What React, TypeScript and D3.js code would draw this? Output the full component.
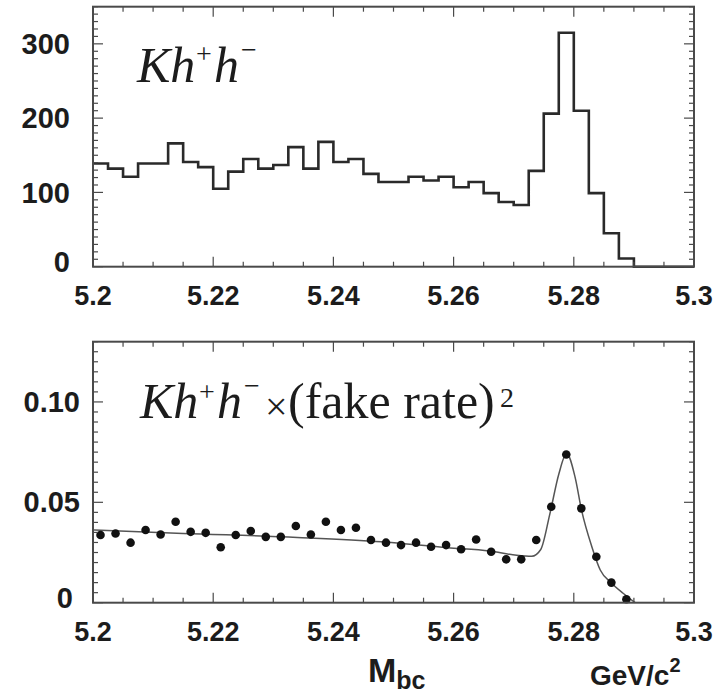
import * as d3 from "d3";

// Kh+h- candidates, Mbc histogram (40 bins, 5.2 – 5.3 GeV/c^2)
const massRange: [number, number] = [5.2, 5.3];
const binWidth = 0.0025;
const candidateCounts = [
  139, 132, 121, 139, 139, 166, 141, 134, 105, 128,
  145, 132, 137, 161, 132, 168, 141, 145, 125, 114,
  114, 121, 116, 121, 107, 114, 99, 87, 83, 129,
  206, 315, 210, 99, 45, 11, 0, 0, 0, 0,
];

// same sample weighted by (fake rate)^2, first 36 bins
const weightedRates = [
  0.0337, 0.0345, 0.0299, 0.0362, 0.034, 0.0403, 0.0353, 0.0348, 0.0276, 0.0337,
  0.0357, 0.0328, 0.0328, 0.0382, 0.034, 0.0403, 0.0362, 0.0373, 0.0312, 0.0299,
  0.0287, 0.0299, 0.0279, 0.0287, 0.0266, 0.0315, 0.0254, 0.0216, 0.0216, 0.0312,
  0.0478, 0.0738, 0.047, 0.0229, 0.01, 0.0017,
];

// fitted curve
const fitMass = [
  5.2, 5.215, 5.234, 5.248, 5.259, 5.266, 5.2705, 5.273, 5.2745, 5.276,
  5.2775, 5.2788, 5.2802, 5.2813, 5.283, 5.2844, 5.2863, 5.2882, 5.2902,
];
const fitRate = [
  0.0362, 0.0345, 0.0325, 0.0303, 0.0274, 0.0258, 0.0236, 0.0231, 0.0265, 0.044,
  0.064, 0.0743, 0.0627, 0.046, 0.0279, 0.0163, 0.0097, 0.0047, 0,
];

const xTicks = [5.2, 5.22, 5.24, 5.26, 5.28, 5.3];
const xTickLabels = ["5.2", "5.22", "5.24", "5.26", "5.28", "5.3"];
const topYTicks = [0, 100, 200, 300];
const topYLabels = ["0", "100", "200", "300"];
const bottomYTicks = [0, 0.05, 0.1];
const bottomYLabels = ["0", "0.05", "0.10"];

const frameColor = "#4a4a4a";
const inkColor = "#1c1c1c";
const sans = "'Liberation Sans', Arial, Helvetica, sans-serif";
const serif = "'Liberation Serif', 'Times New Roman', serif";

const x = d3.scaleLinear().domain(massRange).range([93, 694]);

interface FrameProps {
  y: d3.ScaleLinear<number, number>;
  yMinorStep: number;
  yTicks: number[];
  yLabels: string[];
  labelX: number;
  zeroLabelX: number;
}

function Frame({ y, yMinorStep, yTicks, yLabels, labelX, zeroLabelX }: FrameProps) {
  const [x0, x1] = x.range();
  const [yb, yt] = y.range();
  const yMax = y.domain()[1];
  const xMinor = d3.range(0, 21).map((i) => massRange[0] + i * 0.005);
  const yMinor = d3.range(0, Math.floor(yMax / yMinorStep + 1e-6) + 1).map((i) => i * yMinorStep);
  const isMajorX = (v: number) => xTicks.some((t) => Math.abs(t - v) < 1e-6);
  const isMajorY = (v: number) => yTicks.some((t) => Math.abs(t - v) < 1e-9);
  return (
    <g>
      {xMinor.map((v) => {
        const len = isMajorX(v) ? 10 : 5;
        return (
          <g key={`x${v}`} stroke={frameColor} strokeWidth={1.2}>
            <line x1={x(v)} x2={x(v)} y1={yb} y2={yb - len} />
            <line x1={x(v)} x2={x(v)} y1={yt} y2={yt + len} />
          </g>
        );
      })}
      {yMinor.map((v) => {
        const len = isMajorY(v) ? 10 : 5;
        return (
          <g key={`y${v}`} stroke={frameColor} strokeWidth={1.2}>
            <line x1={x0} x2={x0 + len} y1={y(v)} y2={y(v)} />
            <line x1={x1} x2={x1 - len} y1={y(v)} y2={y(v)} />
          </g>
        );
      })}
      <rect x={x0} y={yt} width={x1 - x0} height={yb - yt} fill="none" stroke={frameColor} strokeWidth={2} />
      {xTicks.map((t, i) => (
        <text
          key={`xl${t}`}
          x={x(t)}
          y={yb + 29}
          dy="0.35em"
          textAnchor="middle"
          fontFamily={sans}
          fontWeight="bold"
          fontSize={27}
          fill={inkColor}
        >
          {xTickLabels[i]}
        </text>
      ))}
      {yTicks.map((t, i) => (
        <text
          key={`yl${t}`}
          x={t === 0 ? zeroLabelX : labelX}
          y={y(t) - (t === 0 ? 5 : 0)}
          dy="0.35em"
          textAnchor="end"
          fontFamily={sans}
          fontWeight="bold"
          fontSize={29}
          fill={inkColor}
        >
          {yLabels[i]}
        </text>
      ))}
    </g>
  );
}

export default function App() {
  const yTop = d3.scaleLinear().domain([0, 350]).range([266.7, 6.7]);
  const yBottom = d3.scaleLinear().domain([0, 0.13]).range([602.7, 341.7]);

  const stepPoints: [number, number][] = candidateCounts.map((c, i) => [massRange[0] + i * binWidth, c]);
  stepPoints.push([massRange[1], candidateCounts[candidateCounts.length - 1]]);
  const histPath = d3
    .line<[number, number]>()
    .x((d) => x(d[0]))
    .y((d) => yTop(d[1]))
    .curve(d3.curveStepAfter)(stepPoints);

  const fitPath = d3
    .line<number>()
    .x((m) => x(m))
    .y((_, i) => yBottom(fitRate[i]))
    .curve(d3.curveMonotoneX)(fitMass);

  return (
    <svg
      width={714}
      height={695}
      style={{ position: "absolute", left: 0, top: 0, background: "#fff" }}
    >
      <rect width={714} height={695} fill="#fff" />

      {/* top: raw Kh+h- */}
      <path d={histPath ?? ""} fill="none" stroke="#2a2a2a" strokeWidth={2.6} />
      <Frame y={yTop} yMinorStep={10} yTicks={topYTicks} yLabels={topYLabels} labelX={70} zeroLabelX={70} />
      <text fontFamily={serif} fontSize={50} fill={inkColor}>
        <tspan x={137} y={82} fontStyle="italic">Kh</tspan>
        <tspan x={196} y={63} fontSize={28}>+</tspan>
        <tspan x={214} y={82} fontStyle="italic">h</tspan>
        <tspan x={241} y={59} fontSize={28}>−</tspan>
      </text>

      {/* bottom: weighted by fake rate squared */}
      <path d={fitPath ?? ""} fill="none" stroke="#555" strokeWidth={1.5} />
      {weightedRates.map((r, i) => (
        <circle
          key={i}
          cx={x(massRange[0] + (i + 0.5) * binWidth)}
          cy={yBottom(r)}
          r={4.3}
          fill="#111"
        />
      ))}
      <Frame y={yBottom} yMinorStep={0.005} yTicks={bottomYTicks} yLabels={bottomYLabels} labelX={80} zeroLabelX={73} />
      <text fontFamily={serif} fontSize={50} fill={inkColor}>
        <tspan x={140} y={418} fontStyle="italic">Kh</tspan>
        <tspan x={199} y={401} fontSize={28}>+</tspan>
        <tspan x={217} y={418} fontStyle="italic">h</tspan>
        <tspan x={244} y={395} fontSize={28}>−</tspan>
        <tspan x={265} y={420} fontSize={40}>×</tspan>
        <tspan x={288} y={418}>(fake rate)</tspan>
        <tspan x={500} y={407} fontSize={28}>2</tspan>
      </text>

      {/* axis title */}
      <text fontFamily={sans} fontWeight="bold" fill={inkColor}>
        <tspan x={368} y={682} fontSize={34}>M</tspan>
        <tspan fontSize={25} dy={7}>bc</tspan>
      </text>
      <text fontFamily={sans} fontWeight="bold" fill={inkColor}>
        <tspan x={590} y={685} fontSize={28}>GeV/c</tspan>
        <tspan fontSize={20} dy={-13}>2</tspan>
      </text>
    </svg>
  );
}
